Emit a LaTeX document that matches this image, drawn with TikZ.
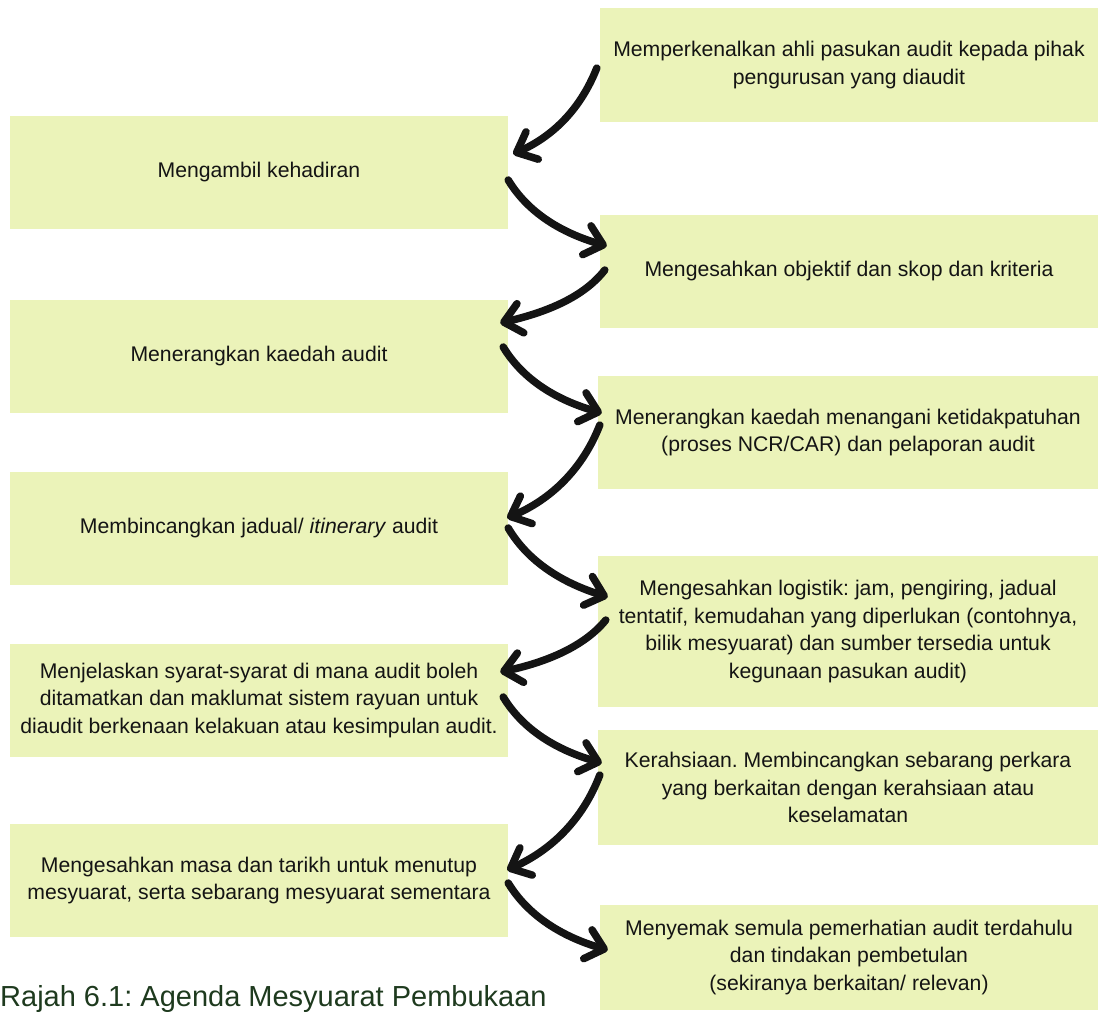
\documentclass[tikz,border=0pt]{standalone}
\usepackage{fontspec}
\setmainfont{Liberation Sans}
\usetikzlibrary{arrows.meta}
\frenchspacing

\definecolor{boxfill}{HTML}{EBF3B9}
\definecolor{inkblack}{HTML}{141414}
\definecolor{captiongreen}{HTML}{1E3A1E}

\tikzset{
  agenda/.style={fill=boxfill, draw=none, inner sep=0pt, align=center,
    font=\fontsize{21.2}{27.5}\selectfont, text=inkblack},
  flow/.style={draw=inkblack, line width=7.5pt, line cap=round,
    -{Straight Barb[length=17pt, width=30pt, round]}},
}

\begin{document}
\begin{tikzpicture}[x=1pt, y=-1pt]
  \useasboundingbox (0,0) rectangle (1098,1012);

  % right column
  \node[agenda, minimum width=498pt, minimum height=114pt] (r1) at (849,65)
    {Memperkenalkan ahli pasukan audit kepada pihak\\pengurusan yang diaudit};
  \node[agenda, minimum width=498pt, minimum height=113pt] (r2) at (849,271.5)
    {Mengesahkan objektif dan skop dan kriteria};
  \node[agenda, minimum width=500pt, minimum height=113pt] (r3) at (848,432.5)
    {Menerangkan kaedah menangani ketidakpatuhan\\(proses NCR/CAR) dan pelaporan audit};
  \node[agenda, minimum width=500pt, minimum height=151pt] (r4) at (848,631.5)
    {Mengesahkan logistik: jam, pengiring, jadual\\tentatif, kemudahan yang diperlukan (contohnya,\\bilik mesyuarat) dan sumber tersedia untuk\\kegunaan pasukan audit)};
  \node[agenda, minimum width=500pt, minimum height=115pt] (r5) at (848,787.5)
    {Kerahsiaan. Membincangkan sebarang perkara\\yang berkaitan dengan kerahsiaan atau\\keselamatan};
  \node[agenda, minimum width=498pt, minimum height=105pt] (r6) at (849,957.5)
    {Menyemak semula pemerhatian audit terdahulu\\dan tindakan pembetulan\\(sekiranya berkaitan/ relevan)};

  % left column
  \node[agenda, minimum width=498pt, minimum height=113pt] (l1) at (259,172.5)
    {Mengambil kehadiran};
  \node[agenda, minimum width=498pt, minimum height=113pt] (l2) at (259,356.5)
    {Menerangkan kaedah audit};
  \node[agenda, minimum width=498pt, minimum height=113pt] (l3) at (259,528.5)
    {Membincangkan jadual/ \textit{itinerary} audit};
  \node[agenda, minimum width=498pt, minimum height=113pt] (l4) at (259,700.5)
    {Menjelaskan syarat-syarat di mana audit boleh\\ditamatkan dan maklumat sistem rayuan untuk\\diaudit berkenaan kelakuan atau kesimpulan audit.};
  \node[agenda, minimum width=498pt, minimum height=113pt] (l5) at (259,880.5)
    {Mengesahkan masa dan tarikh untuk menutup\\mesyuarat, serta sebarang mesyuarat sementara};

  % zig-zag connectors
  \draw[flow] ([shift={(-3,3)}]r1.west)
    .. controls +(-17,43) and +(38,-17) .. ([shift={(5,-18.5)}]l1.east);
  \draw[flow] ([shift={(0,7.5)}]l1.east)
    .. controls +(20,33) and +(-45,-13) .. ([shift={(7,-25.5)}]r2.west);
  \draw[flow] ([shift={(5,-1.5)}]r2.west)
    .. controls +(-21,27) and +(47,-11) .. ([shift={(-8,-33.5)}]l2.east);
  \draw[flow] ([shift={(-5,-9.5)}]l2.east)
    .. controls +(20,33) and +(-45,-13) .. ([shift={(4,-19.5)}]r3.west);
  \draw[flow] ([shift={(2,-7.5)}]r3.west)
    .. controls +(-18,46) and +(42,-18) .. ([shift={(-1,-10.5)}]l3.east);
  \draw[flow] ([shift={(0,-0.5)}]l3.east)
    .. controls +(20,34) and +(-45,-14) .. ([shift={(10,-34.5)}]r4.west);
  \draw[flow] ([shift={(8,-11.5)}]r4.west)
    .. controls +(-21,26) and +(47,-10) .. ([shift={(-8,-28.5)}]l4.east);
  \draw[flow] ([shift={(-5,-3.5)}]l4.east)
    .. controls +(20,33) and +(-45,-13) .. ([shift={(4,-24.5)}]r5.west);
  \draw[flow] ([shift={(2,-12.5)}]r5.west)
    .. controls +(-18,47) and +(42,-19) .. ([shift={(-1,-10.5)}]l5.east);
  \draw[flow] ([shift={(0,2.5)}]l5.east)
    .. controls +(20,33) and +(-45,-13) .. ([shift={(8,-7.5)}]r6.west);

  % caption
  \node[anchor=base west, inner sep=0pt, text=captiongreen,
    font=\fontsize{29}{34}\selectfont] (caption) at (0,1006)
    {Rajah 6.1: Agenda Mesyuarat Pembukaan};
\end{tikzpicture}
\end{document}
